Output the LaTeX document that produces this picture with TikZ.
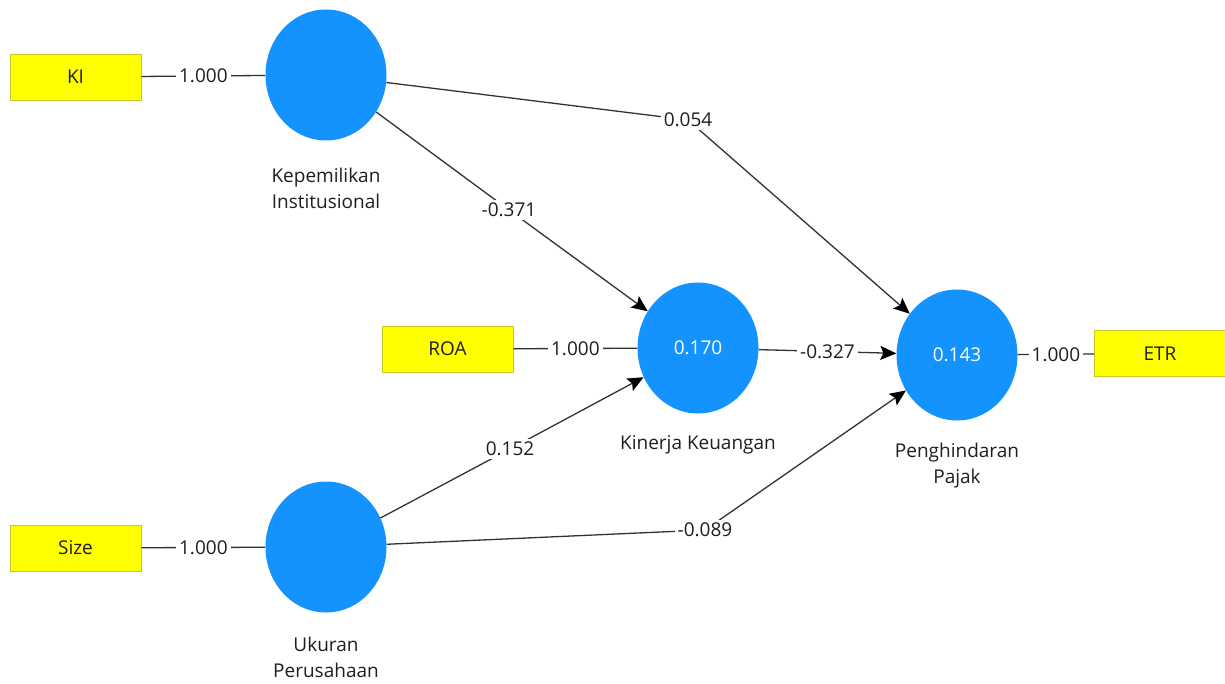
\documentclass[tikz,border=0pt]{standalone}
\usepackage{fontspec}
\setmainfont{Open Sans}
\usetikzlibrary{shapes.geometric,arrows.meta}
\definecolor{lvblue}{RGB}{20,147,255}
\definecolor{indyel}{RGB}{255,255,0}
\definecolor{indbord}{RGB}{200,200,40}
\definecolor{edgec}{RGB}{50,50,50}
\definecolor{txt}{RGB}{30,30,30}
\tikzset{
  latent/.style={ellipse,fill=lvblue,draw=none,minimum width=121pt,minimum height=131pt,inner sep=0pt,text=white,font=\fontsize{19}{23}\selectfont},
  indic/.style={rectangle,fill=indyel,draw=indbord,line width=0.8pt,minimum width=131pt,minimum height=46pt,inner sep=0pt,text=txt,font=\fontsize{19}{23}\selectfont},
  lvcaption/.style={align=center,text=txt,font=\fontsize{19}{26}\selectfont},
  lab/.style={fill=white,inner sep=3pt,text=txt,font=\fontsize{19}{23}\selectfont},
  conn/.style={draw=edgec,line width=1.3pt},
  arr/.style={conn,-{Stealth[length=16pt,width=14pt,inset=3pt,color=black]}}
}
\begin{document}
\begin{tikzpicture}[x=1pt,y=-1pt]
\useasboundingbox (0,0) rectangle (1225,684);
% latent variables
\node[latent] (KI) at (326,75) {};
\node[latent] (KK) at (698,348) {0.170};
\node[latent] (PP) at (957,355) {0.143};
\node[latent] (UP) at (326,547) {};
% indicators
\node[indic] (bKI) at (75.5,77) {KI};
\node[indic] (bROA) at (447.5,349) {ROA};
\node[indic] (bETR) at (1160,353.5) {ETR};
\node[indic] (bSize) at (75.5,548) {Size};
% captions
\node[lvcaption] (cKI) at (326,188) {Kepemilikan\\Institusional};
\node[lvcaption] (cKK) at (698,445) {Kinerja Keuangan};
\node[lvcaption] (cPP) at (957,466) {Penghindaran\\Pajak};
\node[lvcaption] (cUP) at (326,657) {Ukuran\\Perusahaan};
% outer model
\draw[conn] (bKI) -- node[lab] (l1) {1.000} (KI);
\draw[conn] (bROA) -- node[lab] (l2) {1.000} (KK);
\draw[conn] (bSize) -- node[lab] (l3) {1.000} (UP);
\draw[conn] (PP) -- node[lab] (l4) {1.000} (bETR);
% inner model
\coordinate (m054) at (688,120);
\coordinate (m371) at (509,210);
\coordinate (m152) at (510,449);
\coordinate (m089) at (705,530);
\draw[arr] (KI) -- (m054) -- (PP);
\node[lab] (l054) at (m054) {0.054};
\draw[arr] (KI) -- (m371) -- (KK);
\node[lab] (l371) at (m371) {-0.371};
\draw[arr] (UP) -- (m152) -- (KK);
\node[lab] (l152) at (m152) {0.152};
\draw[arr] (UP) -- (m089) -- (PP);
\node[lab] (l089) at (m089) {-0.089};
\draw[arr] (KK) -- node[lab] (l327) {-0.327} (PP);
\end{tikzpicture}
\end{document}
